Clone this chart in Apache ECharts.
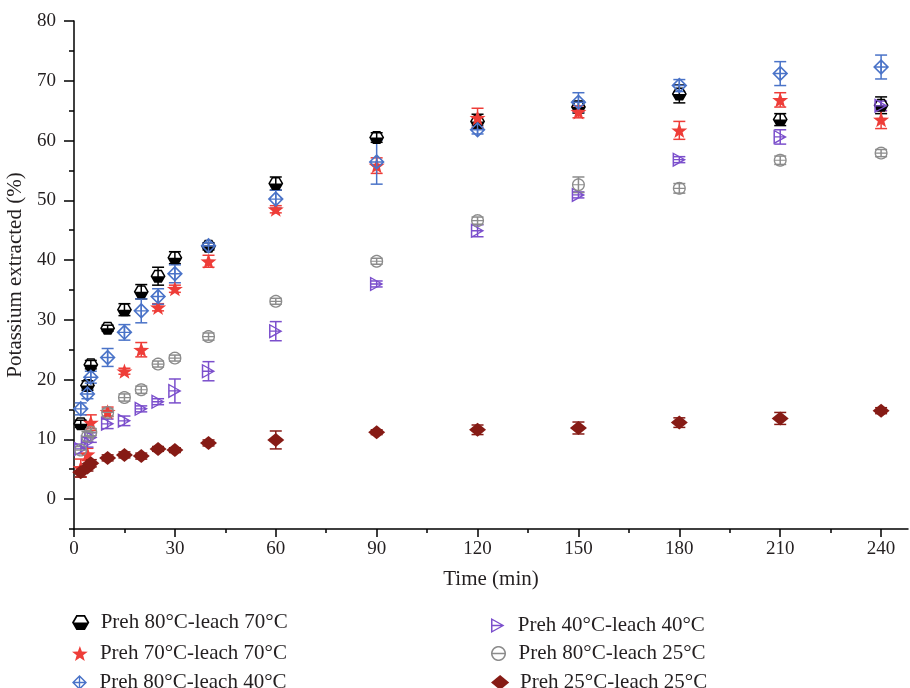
<!DOCTYPE html>
<html>
<head>
<meta charset="utf-8">
<script src="https://cdn.jsdelivr.net/npm/echarts@6/dist/echarts.min.js"></script>
<style>html,body{margin:0;padding:0;background:#fff;}#c{width:910px;height:688px;}</style>
</head>
<body>
<div id="c"></div>
<script>
// ---------------- data ----------------
const times = [2, 4, 5, 10, 15, 20, 25, 30, 40, 60, 90, 120, 150, 180, 210, 240];
const seriesNames = [
  'Preh 80°C-leach 70°C',
  'Preh 70°C-leach 70°C',
  'Preh 80°C-leach 40°C',
  'Preh 40°C-leach 40°C',
  'Preh 80°C-leach 25°C',
  'Preh 25°C-leach 25°C'
];
const preh80leach70 = [12.6, 19.0, 22.5, 28.6, 31.7, 34.7, 37.3, 40.4, 42.3, 52.8, 60.5, 63.2, 65.6, 67.8, 63.5, 65.9];
const preh80leach70Err = [0.6, 0.8, 0.7, 0.5, 1.0, 1.2, 1.5, 1.0, 0.6, 1.1, 0.8, 1.2, 1.0, 1.5, 1.0, 1.4];
const preh70leach70 = [5.2, 7.5, 12.8, 14.6, 21.4, 25.0, 32.1, 35.2, 39.8, 48.5, 55.8, 63.8, 64.8, 61.7, 66.8, 63.5];
const preh70leach70Err = [1.5, 1.0, 1.3, 0.8, 0.5, 1.2, 0.6, 0.6, 1.0, 0.6, 1.3, 1.6, 1.0, 1.5, 1.2, 1.5];
const preh80leach40 = [15.1, 17.6, 20.4, 23.7, 27.9, 31.5, 33.9, 37.7, 42.4, 50.2, 56.4, 61.8, 66.4, 69.2, 71.2, 72.3];
const preh80leach40Err = [1.0, 0.8, 1.0, 1.5, 1.3, 2.0, 1.3, 1.5, 0.5, 1.5, 3.7, 0.7, 1.6, 1.0, 2.0, 2.0];
const preh40leach40 = [8.4, 9.5, 10.3, 12.6, 13.1, 15.1, 16.3, 18.1, 21.4, 28.1, 36.0, 44.9, 50.9, 56.8, 60.6, 65.8];
const preh40leach40Err = [0.8, 0.8, 0.8, 0.8, 0.8, 0.5, 0.5, 2.0, 1.6, 1.6, 0.5, 1.0, 0.5, 0.5, 1.2, 0.8];
const preh80leach25 = [8.2, 10.5, 11.2, 14.5, 17.0, 18.3, 22.6, 23.6, 27.2, 33.1, 39.8, 46.6, 52.6, 52.0, 56.7, 57.9];
const preh80leach25Err = [0.6, 0.8, 0.6, 0.6, 0.6, 0.6, 0.5, 0.5, 0.6, 0.5, 0.5, 0.6, 1.3, 0.8, 0.7, 0.6];
const preh25leach25 = [4.5, 5.3, 6.0, 6.9, 7.4, 7.2, 8.4, 8.2, 9.4, 9.9, 11.2, 11.6, 11.9, 12.8, 13.5, 14.8];
const preh25leach25Err = [0.8, 0.6, 0.6, 0.5, 0.5, 0.5, 0.4, 0.4, 0.5, 1.5, 0.4, 0.8, 1.0, 0.8, 1.0, 0.5];
const xMajorTicks = [0, 30, 60, 90, 120, 150, 180, 210, 240];
const xMinorTicks = [15, 45, 75, 105, 135, 165, 195, 225];
const yMajorTicks = [0, 10, 20, 30, 40, 50, 60, 70, 80];
const yMinorTicks = [-5, 5, 15, 25, 35, 45, 55, 65, 75];

// ---------------- symbol shapes ----------------
function orient(pts, positive) {
  let a = 0;
  for (let i = 0; i < pts.length; i++) {
    const p = pts[i], q = pts[(i + 1) % pts.length];
    a += p[0] * q[1] - q[0] * p[1];
  }
  return ((a > 0) === positive) ? pts : pts.slice().reverse();
}
function shapePath(outer, holes) {
  const parts = [orient(outer, true)].concat((holes || []).map(h => orient(h, false)));
  return 'path://' + parts.map(p => 'M' + p.map(q => q[0].toFixed(2) + ',' + q[1].toFixed(2)).join('L') + 'Z').join(' ');
}
// half-filled hexagon (top half hollow, bottom half solid)
const hexOuter = [];
for (let i = 0; i < 6; i++) { const a = i * Math.PI / 3; hexOuter.push([10 * Math.cos(a), 10 * Math.sin(a)]); }
const hexHole = [[-7.69, 0], [-3.85, -6.66], [3.85, -6.66], [7.69, 0]];
const symHalfHex = shapePath(hexOuter, [hexHole]);
// star
const starPts = [];
for (let i = 0; i < 10; i++) { const r = i % 2 ? 4.1 : 10; const a = -Math.PI / 2 + i * Math.PI / 5; starPts.push([r * Math.cos(a), r * Math.sin(a)]); }
const symStar = shapePath(starPts);
// diamond with plus
const dd = 10 - 2 * Math.SQRT2, dc = 0.9;
const dHoles = [];
[[1, 1], [1, -1], [-1, 1], [-1, -1]].forEach(s => dHoles.push([[s[0] * dc, s[1] * dc], [s[0] * (dd - dc), s[1] * dc], [s[0] * dc, s[1] * (dd - dc)]]));
const symDiamondPlus = shapePath([[0, -10], [10, 0], [0, 10], [-10, 0]], dHoles);
// circle with minus
const circOuter = [];
for (let i = 0; i < 48; i++) { const a = i * 2 * Math.PI / 48; circOuter.push([10 * Math.cos(a), 10 * Math.sin(a)]); }
const ri = 7.9, cc = 0.95, th0 = Math.asin(cc / ri);
const cTop = [], cBot = [];
for (let i = 0; i <= 24; i++) { const a = th0 + (Math.PI - 2 * th0) * i / 24; cTop.push([ri * Math.cos(a), -ri * Math.sin(a)]); cBot.push([ri * Math.cos(a), ri * Math.sin(a)]); }
const symCircleMinus = shapePath(circOuter, [cTop, cBot]);
// right triangle with minus
const symTriMinus = shapePath([[-9, -10], [9, 0], [-9, 10]], [
  [[-7.0, -6.9], [3.9, -0.9], [-7.0, -0.9]],
  [[-7.0, 6.9], [3.9, 0.9], [-7.0, 0.9]]
]);
// filled diamond
const symDiamond = shapePath([[0, -7], [8.5, 0], [0, 7], [-8.5, 0]]);

const styles = [
  { color: '#000000', symbol: symHalfHex, size: 15, vals: preh80leach70, errs: preh80leach70Err },
  { color: '#ee3d38', symbol: symStar, size: 16, vals: preh70leach70, errs: preh70leach70Err },
  { color: '#4a73c8', symbol: symDiamondPlus, size: 16, vals: preh80leach40, errs: preh80leach40Err },
  { color: '#7b4fcc', symbol: symTriMinus, size: 15, vals: preh40leach40, errs: preh40leach40Err },
  { color: '#8c8c8c', symbol: symCircleMinus, size: 13, vals: preh80leach25, errs: preh80leach25Err },
  { color: '#861b15', symbol: symDiamond, size: 17, vals: preh25leach25, errs: preh25leach25Err }
];

const series = [];
styles.forEach((s, k) => {
  const col = s.color;
  series.push({
    name: 'err' + k,
    type: 'custom',
    xAxisIndex: 0, yAxisIndex: 0,
    data: times.map((t, i) => [t, s.vals[i], s.errs[i]]),
    renderItem: function (params, api) {
      const x = api.value(0), y = api.value(1), e = api.value(2);
      const top = api.coord([x, y + e]), bot = api.coord([x, y - e]);
      const hw = 6;
      const st = { stroke: col, lineWidth: 1.5 };
      return {
        type: 'group',
        children: [
          { type: 'line', shape: { x1: top[0], y1: top[1], x2: bot[0], y2: bot[1] }, style: st },
          { type: 'line', shape: { x1: top[0] - hw, y1: top[1], x2: top[0] + hw, y2: top[1] }, style: st },
          { type: 'line', shape: { x1: bot[0] - hw, y1: bot[1], x2: bot[0] + hw, y2: bot[1] }, style: st }
        ]
      };
    },
    silent: true
  });
  series.push({
    name: seriesNames[k],
    type: 'scatter',
    xAxisIndex: 0, yAxisIndex: 0,
    symbol: s.symbol,
    symbolSize: s.size,
    symbolKeepAspect: true,
    itemStyle: { color: col, opacity: 1 },
    data: times.map((t, i) => [t, s.vals[i]])
  });
});

const fontFam = 'Liberation Serif';
const legendPos = [
  { left: 67, top: 607 }, { left: 67, top: 638 }, { left: 67, top: 667 },
  { left: 486, top: 610 }, { left: 486, top: 638 }, { left: 486, top: 667 }
];
const legends = seriesNames.map((n, i) => ({
  data: [n],
  left: legendPos[i].left,
  top: legendPos[i].top,
  itemWidth: 30,
  itemHeight: 15,
  selectedMode: false,
  textStyle: { fontFamily: fontFam, fontSize: 21, color: '#231f20' }
}));

const axisLineStyle = { color: '#000', width: 1.5 };
const option = {
  animation: false,
  backgroundColor: '#ffffff',
  grid: { left: 74, right: 2, top: 21, bottom: 159, containLabel: false, outerBoundsMode: 'none' },
  legend: legends,
  xAxis: [
    {
      type: 'value', min: 0, max: 248,
      name: 'Time (min)', nameLocation: 'middle', nameGap: 40,
      nameTextStyle: { fontFamily: fontFam, fontSize: 21, color: '#231f20' },
      axisLine: { show: true, onZero: false, lineStyle: axisLineStyle },
      axisTick: { show: true, inside: false, length: 8, customValues: xMajorTicks, lineStyle: { color: '#000', width: 1.5 } },
      axisLabel: { customValues: xMajorTicks, margin: 11, fontFamily: fontFam, fontSize: 19, color: '#231f20' },
      splitLine: { show: false }
    },
    {
      type: 'value', min: 0, max: 248, position: 'bottom', offset: 0,
      axisLine: { show: false, onZero: false },
      axisTick: { show: true, inside: false, length: 4, customValues: xMinorTicks, lineStyle: { color: '#000', width: 1.5 } },
      axisLabel: { show: false },
      splitLine: { show: false }
    }
  ],
  yAxis: [
    {
      type: 'value', min: -5, max: 80,
      name: 'Potassium extracted (%)', nameLocation: 'middle', nameGap: 45,
      nameTextStyle: { fontFamily: fontFam, fontSize: 21, color: '#231f20' },
      axisLine: { show: true, onZero: false, lineStyle: axisLineStyle },
      axisTick: { show: true, inside: false, length: 10, customValues: yMajorTicks, lineStyle: { color: '#000', width: 1.5 } },
      axisLabel: { customValues: yMajorTicks, margin: 18, fontFamily: fontFam, fontSize: 19, color: '#231f20' },
      splitLine: { show: false }
    },
    {
      type: 'value', min: -5, max: 80, position: 'left', offset: 0,
      axisLine: { show: false, onZero: false },
      axisTick: { show: true, inside: false, length: 5, customValues: yMinorTicks, lineStyle: { color: '#000', width: 1.5 } },
      axisLabel: { show: false },
      splitLine: { show: false }
    }
  ],
  series: series
};
const chart = echarts.init(document.getElementById('c'), null, { renderer: 'canvas' });
chart.setOption(option);
</script>
</body>
</html>
